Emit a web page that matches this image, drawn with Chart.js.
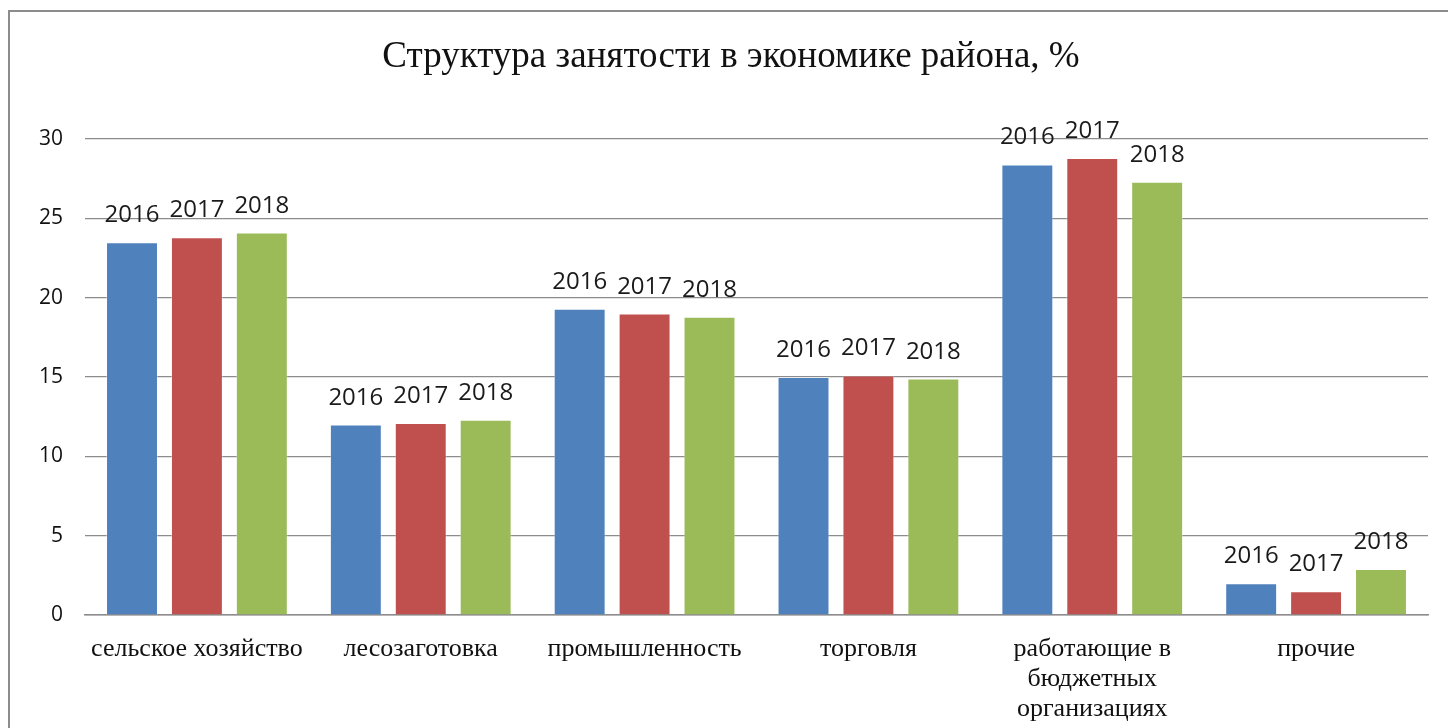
<!DOCTYPE html>
<html lang="ru">
<head>
<meta charset="utf-8">
<title>Структура занятости</title>
<script src="https://cdn.jsdelivr.net/npm/chart.js@4/dist/chart.umd.min.js"></script>
<style>
    html, body { margin: 0; padding: 0; background: #fff; }
    #wrap { position: relative; width: 1448px; height: 728px; overflow: hidden; }
    #frame {
        position: absolute; left: 8px; top: 10px; width: 1460px; height: 760px;
        border: 2px solid #8c8c8c; box-sizing: border-box; pointer-events: none;
    }
    #chart { position: absolute; left: 0; top: 0; }
</style>
</head>
<body>
<div id="wrap">
    <canvas id="chart" width="1448" height="728"></canvas>
    <div id="frame"></div>
</div>
<script>
// Data
const categories = [
    "сельское хозяйство",
    "лесозаготовка",
    "промышленность",
    "торговля",
    ["работающие в", "бюджетных", "организациях"],
    "прочие"
];
const years = ["2016", "2017", "2018"];
const values2016 = [23.5, 12.0, 19.3, 15.0, 28.4, 2.0];
const values2017 = [23.8, 12.1, 19.0, 15.1, 28.8, 1.5];
const values2018 = [24.1, 12.3, 18.8, 14.9, 27.3, 2.9];
const yTicks = [0, 5, 10, 15, 20, 25, 30];

const colors = ["#4F81BD", "#C0504D", "#9BBB59"];
const serif = "'Liberation Serif', 'Times New Roman', serif";
const sans = "'Open Sans', 'Liberation Sans', sans-serif";

// label every bar with its series name (year), like the Excel original
const seriesLabels = {
    id: "seriesLabels",
    afterDatasetsDraw(chart) {
        const ctx = chart.ctx;
        ctx.save();
        ctx.font = "24px " + sans;
        ctx.fillStyle = "#1a1a1a";
        ctx.textAlign = "center";
        ctx.textBaseline = "alphabetic";
        chart.data.datasets.forEach((ds, i) => {
            chart.getDatasetMeta(i).data.forEach(bar => {
                ctx.fillText(ds.label, bar.x, bar.y - 20);
            });
        });
        ctx.restore();
    }
};

const allSeries = [values2016, values2017, values2018];

new Chart(document.getElementById("chart").getContext("2d"), {
    type: "bar",
    data: {
        labels: categories,
        datasets: years.map((y, i) => ({
            label: y,
            data: allSeries[i],
            backgroundColor: colors[i],
            borderColor: "rgba(255,255,255,0.35)",
            borderWidth: 1,
            barPercentage: 0.8,
            categoryPercentage: 0.87
        }))
    },
    options: {
        responsive: false,
        animation: false,
        layout: { padding: { left: 14, right: 0, top: 0, bottom: 0 } },
        plugins: {
            legend: { display: false },
            tooltip: { enabled: false },
            title: {
                display: true,
                text: "Структура занятости в экономике района, %",
                color: "#111",
                font: { family: serif, size: 37, weight: "normal" },
                padding: { top: 35, bottom: 59.6 }
            }
        },
        scales: {
            x: {
                grid: { display: false },
                border: { color: "#8c8c8c", width: 1.5 },
                ticks: {
                    color: "#111",
                    font: { family: serif, size: 26, lineHeight: 1.16 },
                    padding: 11,
                    maxRotation: 0,
                    autoSkip: false
                },
                afterFit(scale) { scale.height = 113; }
            },
            y: {
                min: 0,
                max: 30,
                afterBuildTicks(scale) { scale.ticks = yTicks.map(v => ({ value: v })); },
                grid: { color: "#8c8c8c", lineWidth: 1.2, drawTicks: false },
                border: { display: false },
                ticks: {
                    color: "#111",
                    font: { family: sans, size: 21 },
                    padding: 22
                },
                afterFit(scale) { scale.width = 71; }
            },
            // empty right axis, only keeps a margin after the plot area
            spacer: {
                type: "linear",
                position: "right",
                grid: { display: false },
                border: { display: false },
                ticks: { display: false },
                afterFit(scale) { scale.width = 20; }
            }
        }
    },
    plugins: [seriesLabels]
});
</script>
</body>
</html>
